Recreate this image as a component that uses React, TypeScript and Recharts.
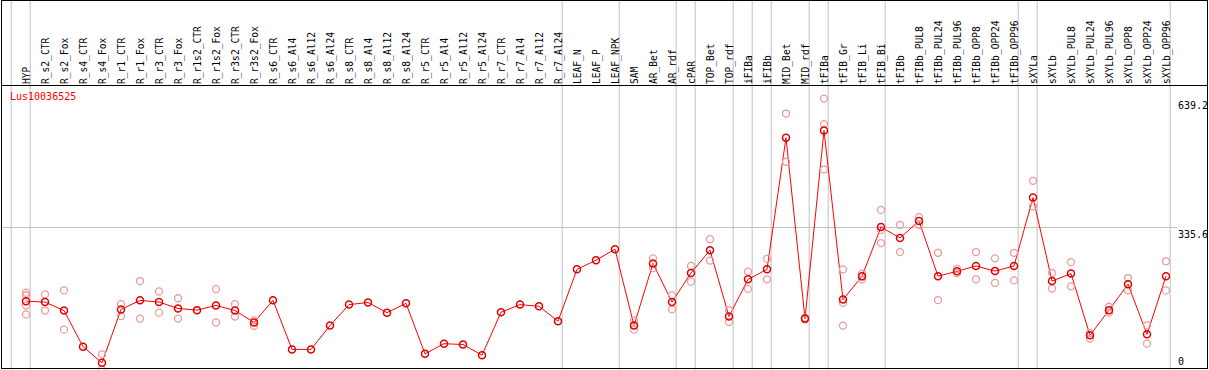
import { ComposedChart, Line, ReferenceLine, Scatter, XAxis, YAxis } from "recharts";

const title = "Lus10036525";

const categories = [
  "HYP", "R_s2_CTR", "R_s2_Fox", "R_s4_CTR", "R_s4_Fox", "R_r1_CTR", "R_r1_Fox", "R_r3_CTR",
  "R_r3_Fox", "R_r1s2_CTR", "R_r1s2_Fox", "R_r3s2_CTR", "R_r3s2_Fox", "R_s6_CTR", "R_s6_Al4",
  "R_s6_Al12", "R_s6_Al24", "R_s8_CTR", "R_s8_Al4", "R_s8_Al12", "R_s8_Al24", "R_r5_CTR",
  "R_r5_Al4", "R_r5_Al12", "R_r5_Al24", "R_r7_CTR", "R_r7_Al4", "R_r7_Al12", "R_r7_Al24",
  "LEAF_N", "LEAF_P", "LEAF_NPK", "SAM", "AR_Bet", "AR_rdf", "cPAR", "TOP_Bet", "TOP_rdf",
  "iFIBa", "iFIBb", "MID_Bet", "MID_rdf", "tFIBa", "tFIB_Gr", "tFIB_Li", "tFIB_Bi", "tFIBb",
  "tFIBb_PUL8", "tFIBb_PUL24", "tFIBb_PUL96", "tFIBb_OPP8", "tFIBb_OPP24", "tFIBb_OPP96",
  "sXYLa", "sXYLb", "sXYLb_PUL8", "sXYLb_PUL24", "sXYLb_PUL96", "sXYLb_OPP8", "sXYLb_OPP24",
  "sXYLb_OPP96",
];

// mean expression per sample (the red line)
const means = [
  162, 160, 140, 55, 17, 142.5, 164, 160, 145, 141, 152, 140, 112,
  164, 48.5, 48.5, 104.6, 154, 159, 135, 157, 38, 62, 60, 35, 136, 154, 150, 115,
  237, 258.5, 284.5, 104.6, 251, 160, 228.5, 282, 126, 213.5, 237, 547, 121, 564,
  166, 220.5, 336.5, 311, 351, 221, 232.5, 245, 233, 245,
  406, 209.5, 227, 81.7, 141, 202, 84, 221,
];

// individual replicates (faint circles)
const replicates: number[][] = [
  [182, 176, 152, 131], [178, 140], [187.5, 95], [], [36.7, 1], [155, 127], [209.5, 121],
  [185, 135], [169, 121], [], [190.5, 112], [155, 126], [117, 104],
  [], [], [], [], [], [], [], [], [], [], [], [], [], [], [], [],
  [], [], [], [116, 95], [263, 240], [175.6, 143], [245, 208], [308, 257.6], [141, 113],
  [231.5, 191], [261.6, 213.5], [604, 490.5], [123, 119], [639.2, 579, 472],
  [237, 158, 104.6], [227, 213.5], [377, 330, 299], [342, 277.5],
  [360, 342], [276, 164.5], [238, 228], [277.5, 213.5], [263, 205], [276, 211],
  [445.5, 385.5], [228.5, 192], [254, 197], [87, 74], [149, 135], [216.6, 187.5],
  [105, 62], [256, 187.5],
];

// group separators sit just right of these sample indices
const separators = [-1, 0, 28, 31, 34, 35, 37, 38, 39, 41, 42, 45, 52, 53, 60];
const yTicks = [0, 335.6, 639.2];
const yMax = 671.2;

const lineData = categories.map((name, i) => ({ i, name, mean: means[i] }));
const repData = replicates.flatMap((vals, i) => vals.map((v) => ({ i, v })));
const xTicks = categories.map((_, i) => i);

const mono = "DejaVu Sans Mono";
const GRAY = "#c0c0c0";

function CatTick({ x, payload }: any) {
  const bx = x + 3.5;
  return (
    <text
      x={bx}
      y={84}
      transform={`rotate(-90, ${bx}, 84)`}
      textAnchor="start"
      fontFamily={mono}
      fontSize={9.6}
      fill="#000"
    >
      {categories[payload.value]}
    </text>
  );
}

function ValueTick({ y, payload }: any) {
  return (
    <text
      x={1178}
      y={payload.value === 0 ? y - 5 : y + 10}
      textAnchor="start"
      fontFamily={mono}
      fontSize={10}
      fill="#000"
    >
      {payload.value}
    </text>
  );
}

export default function App() {
  return (
    <div style={{ position: "relative", width: 1209, height: 370, background: "#fff" }}>
      <style>{"body{margin:0}"}</style>
      <ComposedChart
        width={1209}
        height={370}
        data={lineData}
        margin={{ top: 0, right: 0, bottom: 0, left: 2 }}
      >
        <XAxis
          type="number"
          dataKey="i"
          orientation="top"
          height={85}
          domain={[-1.2632, 60.2105]}
          allowDataOverflow
          ticks={xTicks}
          interval={0}
          axisLine={false}
          tickLine={false}
          tick={CatTick}
        />
        <YAxis
          orientation="right"
          width={39}
          domain={[0, yMax]}
          allowDataOverflow
          ticks={yTicks}
          interval={0}
          axisLine={false}
          tickLine={false}
          tick={ValueTick}
        />
        {separators.map((s) => (
          <ReferenceLine
            key={s}
            x={s + 0.22}
            ifOverflow="visible"
            shape={(p: any) => (
              <line x1={p.x1} x2={p.x2} y1={0} y2={370} stroke={GRAY} strokeWidth={1} />
            )}
          />
        ))}
        <ReferenceLine
          y={335.6}
          ifOverflow="visible"
          shape={(p: any) => (
            <line x1={1} x2={1177} y1={p.y1} y2={p.y2} stroke={GRAY} strokeWidth={1} />
          )}
        />
        <Scatter
          data={repData}
          dataKey="v"
          isAnimationActive={false}
          shape={(p: any) => (
            <circle cx={p.cx} cy={p.cy} r={3.5} fill="none" stroke="#ec9a9a" strokeWidth={1.3} />
          )}
        />
        <Line
          dataKey="mean"
          type="linear"
          stroke="#ff0000"
          strokeWidth={1}
          isAnimationActive={false}
          activeDot={false}
          dot={(p: any) => (
            <circle
              key={`d${p.index}`}
              cx={p.cx}
              cy={p.cy}
              r={3.5}
              fill="none"
              stroke="#e00000"
              strokeWidth={1.5}
            />
          )}
        />
      </ComposedChart>
      <svg
        width={1209}
        height={370}
        style={{ position: "absolute", left: 0, top: 0, pointerEvents: "none" }}
      >
        <rect x={1.5} y={0.5} width={1206} height={368} fill="none" stroke="#000" />
        <line x1={1} x2={1208} y1={85.5} y2={85.5} stroke="#000" />
        <text x={10} y={100} fontFamily={mono} fontSize={10} fill="#ff0000">
          {title}
        </text>
      </svg>
    </div>
  );
}
